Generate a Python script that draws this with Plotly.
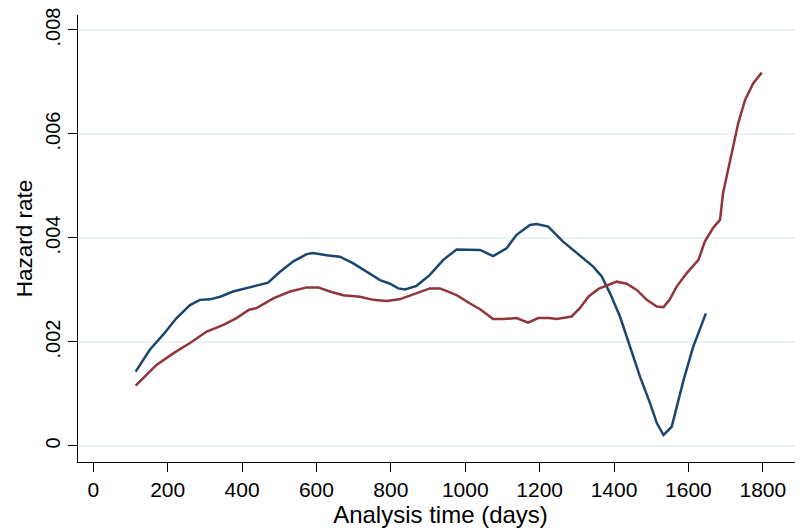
import plotly.graph_objects as go

# Analysis time (days) and smoothed hazard estimates
time_blue = [114, 152, 188, 224, 260, 287, 314, 341, 376, 419, 430, 470, 502, 538, 574, 591,
             627, 663, 699, 735, 771, 798, 820, 838, 869, 905, 941, 977, 1004, 1040, 1075,
             1111, 1138, 1174, 1192, 1223, 1263, 1308, 1344, 1367, 1389, 1416, 1443, 1470,
             1497, 1515, 1533, 1555, 1587, 1613, 1647]
hazard_blue = [0.00143, 0.00185, 0.00214, 0.00246, 0.00271, 0.00281, 0.00282, 0.00287,
               0.00297, 0.00305, 0.00308, 0.00314, 0.00335, 0.00355, 0.00369, 0.00371,
               0.00367, 0.00364, 0.00351, 0.00335, 0.00319, 0.00312, 0.00303, 0.00301,
               0.00308, 0.00329, 0.00358, 0.00378, 0.00378, 0.00377, 0.00365, 0.00380,
               0.00406, 0.00425, 0.00427, 0.00422, 0.00393, 0.00367, 0.00345, 0.00326,
               0.00294, 0.00249, 0.00191, 0.00133, 0.00082, 0.00044, 0.00021, 0.00037,
               0.00127, 0.00191, 0.00255]

time_red = [114, 170, 215, 260, 305, 350, 385, 419, 439, 484, 529, 574, 605, 636, 672, 717,
            753, 789, 823, 842, 878, 905, 932, 977, 1013, 1040, 1075, 1102, 1138, 1169,
            1196, 1226, 1246, 1286, 1308, 1331, 1358, 1380, 1407, 1434, 1461, 1488, 1515,
            1533, 1550, 1568, 1595, 1627, 1644, 1666, 1685, 1693, 1707, 1720, 1734, 1752,
            1774, 1797]
hazard_red = [0.00116, 0.00156, 0.00178, 0.00198, 0.00220, 0.00233, 0.00246, 0.00262,
              0.00265, 0.00284, 0.00297, 0.00305, 0.00305, 0.00297, 0.00290, 0.00287,
              0.00281, 0.00279, 0.00282, 0.00287, 0.00297, 0.00303, 0.00303, 0.00290,
              0.00274, 0.00263, 0.00244, 0.00244, 0.00246, 0.00237, 0.00246, 0.00246,
              0.00244, 0.00249, 0.00265, 0.00287, 0.00302, 0.00308, 0.00316, 0.00312,
              0.00300, 0.00281, 0.00268, 0.00267, 0.00282, 0.00306, 0.00332, 0.00358,
              0.00393, 0.00419, 0.00435, 0.00486, 0.00531, 0.00576, 0.00621, 0.00665,
              0.00697, 0.00718]

x_ticks = [0, 200, 400, 600, 800, 1000, 1200, 1400, 1600, 1800]
y_ticks = [0, 0.002, 0.004, 0.006, 0.008]
y_tick_labels = ["0", ".002", ".004", ".006", ".008"]

FONT = "Liberation Sans, Arial, sans-serif"

fig = go.Figure()
fig.add_trace(go.Scatter(x=time_blue, y=hazard_blue, mode="lines",
                         line=dict(color="#1a476f", width=2.5), showlegend=False))
fig.add_trace(go.Scatter(x=time_red, y=hazard_red, mode="lines",
                         line=dict(color="#90353b", width=2.5), showlegend=False))

# page body has an 8px default margin, so the figure is 8px smaller than the window
fig.update_layout(
    width=795, height=523,
    margin=dict(l=70, r=0, t=7, b=69),
    paper_bgcolor="white", plot_bgcolor="white",
    font=dict(family=FONT, color="black", size=21),
    xaxis=dict(
        range=[-41, 1908], tickvals=x_ticks, ticks="outside", ticklen=9,
        tickwidth=1.3, tickcolor="black", showline=True, linecolor="black",
        linewidth=1.3, showgrid=False, zeroline=False, automargin=False,
        tickfont=dict(size=21, family=FONT),
        title=dict(text="Analysis time (days)", font=dict(size=24, family=FONT), standoff=0),
    ),
    yaxis=dict(
        range=[-0.000308, 0.008288], tickvals=y_ticks, ticktext=y_tick_labels,
        ticks="outside", ticklen=9, tickwidth=1.3, tickcolor="black",
        showline=True, linecolor="black", linewidth=1.3, automargin=False,
        showgrid=True, gridcolor="#eaf2f3", gridwidth=2, zeroline=False,
        tickangle=-90, tickfont=dict(size=20, family=FONT), ticklabeloverflow="allow",
        title=dict(text="Hazard rate", font=dict(size=22.5, family=FONT), standoff=2),
    ),
)

fig.write_html("out.html")
